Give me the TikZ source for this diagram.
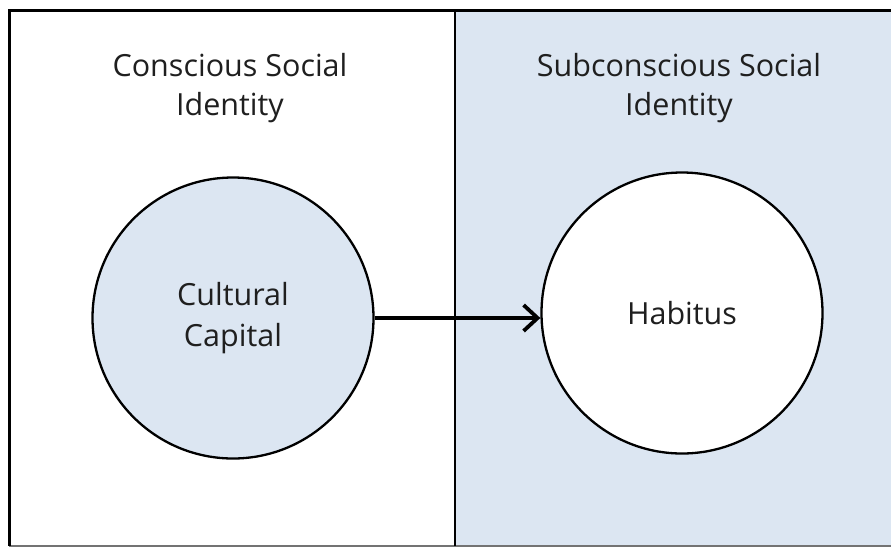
\documentclass[tikz,border=0pt]{standalone}
\usepackage{fontspec}
\setmainfont{Open Sans}
\usetikzlibrary{arrows.meta}
\definecolor{paleblue}{HTML}{DCE6F2}
\tikzset{
  lbl/.style={align=center, font=\fontsize{30.5}{39}\selectfont, text=black!88},
  bubble/.style={circle, draw=black, line width=2.3pt, minimum size=281pt, inner sep=0pt, font=\fontsize{30.5}{41}\selectfont, align=center, text=black!88},
  link/.style={line width=3.8pt, -{Straight Barb[length=14pt,width=26pt,line width=3.8pt]}}
}
\begin{document}
\begin{tikzpicture}[x=1pt,y=-1pt]
\useasboundingbox (0,0) rectangle (891,547);
\begin{scope}
\clip (0,0) rectangle (891,547);
\fill[paleblue] (455,10) rectangle (900,546);
\draw[black!55, line width=1.5pt] (9,546) -- (900,546);
\draw[line width=3pt] (900,10) -- (9,10) -- (9,546);
\draw[line width=2.4pt] (455,10) -- (455,546);
\end{scope}
\node[lbl] (t1) at (230,88) {Conscious Social\\Identity};
\node[lbl] (t2) at (679,88) {Subconscious Social\\Identity};
\node[bubble, fill=paleblue] (cc) at (233,318) {Cultural\\Capital};
\node[bubble, fill=white] (hb) at (682,313) {Habitus};
\draw[link] (cc.east) -- (hb.west |- cc.east);
\end{tikzpicture}
\end{document}
